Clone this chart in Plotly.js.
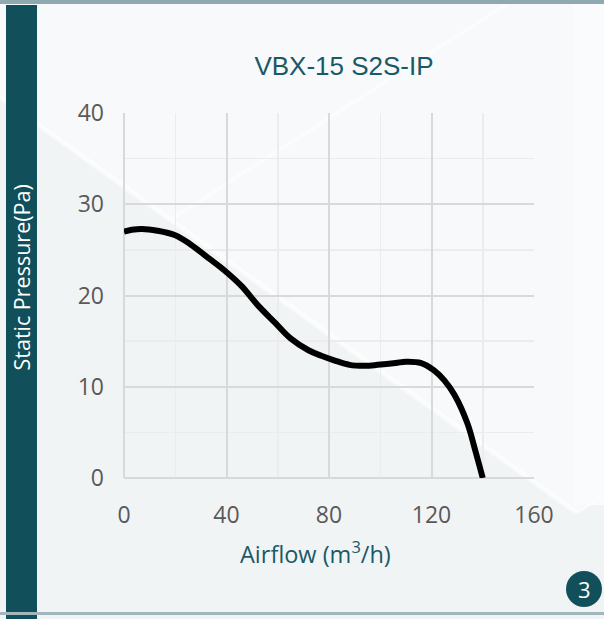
<!DOCTYPE html>
<html>
<head>
<meta charset="utf-8">
<script src="https://cdn.plot.ly/plotly-3.0.1.min.js"></script>
<style>
html,body{margin:0;padding:0;background:#f3f6f7;}
#chart{width:604px;height:619px;}
</style>
</head>
<body>
<div id="chart"></div>
<script>
// ---- data ----
const chartTitle = "VBX-15 S2S-IP";
const xTitle = "Airflow (m<sup>3</sup>/h)";
const yTitle = "Static Pressure(Pa)";
const pageNumber = "3";
const airflow = [0, 3, 7, 13, 20, 26, 33, 39, 46, 52, 59, 65, 72, 77, 82, 88, 94, 99, 106, 110, 116, 121, 125, 129, 134, 137, 140];
const pressure = [27.0, 27.2, 27.3, 27.1, 26.6, 25.6, 24.1, 22.8, 21.0, 19.0, 17.0, 15.3, 14.0, 13.4, 12.9, 12.4, 12.3, 12.4, 12.6, 12.75, 12.6, 11.8, 10.7, 9.1, 6.0, 3.1, 0.0];
const xTickVals = [0, 40, 80, 120, 160];
const yTickVals = [0, 10, 20, 30, 40];

// ---- layout helpers (pixel -> paper) ----
const L = 124, R = 534, T = 113, B = 478;
const px = v => (v - L) / (R - L);
const py = v => (B - v) / (B - T);

const teal = "#114f5b";
const shapes = [
  // lighter upper region above diagonal
  {type:"path", xref:"paper", yref:"paper", layer:"below",
   path:`M ${px(0)} ${py(97)} L ${px(577)} ${py(513)} L ${px(604)} ${py(495)} L ${px(604)} ${py(4)} L ${px(0)} ${py(4)} Z`,
   fillcolor:"#f7f9fa", line:{width:0}},
  // right vertical light panel
  {type:"rect", xref:"paper", yref:"paper", layer:"below",
   x0:px(573), x1:px(604), y0:py(4), y1:py(505), fillcolor:"#fafbfc", line:{width:0}},
  // diagonal white band 1
  {type:"line", xref:"paper", yref:"paper", layer:"below",
   x0:px(0), y0:py(97), x1:px(577), y1:py(513), line:{color:"rgba(255,255,255,0.6)", width:5}},
  // diagonal white band 2
  {type:"line", xref:"paper", yref:"paper", layer:"below",
   x0:px(507), y0:py(4), x1:px(170), y1:py(220), line:{color:"rgba(255,255,255,0.45)", width:4}},
  // bottom-right white edge
  {type:"line", xref:"paper", yref:"paper", layer:"below",
   x0:px(577), y0:py(513), x1:px(604), y1:py(495), line:{color:"rgba(255,255,255,0.5)", width:3}},
  // top border
  {type:"rect", xref:"paper", yref:"paper", layer:"above",
   x0:px(0), x1:px(604), y0:py(0), y1:py(4), fillcolor:"#8ea9b0", line:{width:0}},
  // bottom border
  {type:"rect", xref:"paper", yref:"paper", layer:"above",
   x0:px(0), x1:px(604), y0:py(612), y1:py(615), fillcolor:"#a2b7bc", line:{width:0}},
  // left dark bar
  {type:"rect", xref:"paper", yref:"paper", layer:"below",
   x0:px(6), x1:px(37), y0:py(5), y1:py(619), fillcolor:teal, line:{width:0}},
  // page number circle
  {type:"circle", xref:"paper", yref:"paper", layer:"above",
   x0:px(566), x1:px(602), y0:py(571), y1:py(607), fillcolor:teal, line:{width:0}}
];

const data = [{
  x: airflow, y: pressure, type:"scatter", mode:"lines",
  line:{color:"#000000", width:6, shape:"spline", smoothing:1},
  hoverinfo:"x+y", showlegend:false
}];

const tickFont = {family:"Open Sans, sans-serif", size:23, color:"#595959"};

const layout = {
  width:604, height:619,
  margin:{l:L, r:604-R, t:T, b:619-B, pad:0},
  paper_bgcolor:"#f1f4f5", plot_bgcolor:"rgba(0,0,0,0)",
  title:{text:chartTitle, x:(344/604), xanchor:"center", y:1-(66/619), yanchor:"middle",
         font:{family:"Liberation Sans, Arial, sans-serif", size:26, color:"#1a5966"}},
  xaxis:{range:[0,160], tickvals:xTickVals, ticks:"", ticklabelstandoff:21,
         showgrid:true, gridcolor:"#d9d9d9", gridwidth:2,
         minor:{dtick:20, showgrid:true, gridcolor:"#ececec", gridwidth:1.5},
         zeroline:true, zerolinecolor:"#d9d9d9", zerolinewidth:2, showline:false, fixedrange:true,
         tickfont:tickFont},
  yaxis:{range:[0,40], tickvals:yTickVals, ticks:"", ticklabelstandoff:19,
         showgrid:true, gridcolor:"#d9d9d9", gridwidth:2,
         minor:{dtick:5, showgrid:true, gridcolor:"#ececec", gridwidth:1.5},
         zeroline:true, zerolinecolor:"#d9d9d9", zerolinewidth:2, showline:false, fixedrange:true,
         tickfont:tickFont},
  shapes:shapes,
  annotations:[
    {text:xTitle, xref:"paper", yref:"paper", x:px(315), y:py(552), xanchor:"center", yanchor:"middle",
     showarrow:false, font:{family:"Open Sans, sans-serif", size:23.5, color:"#1a5966"}},
    {text:yTitle, xref:"paper", yref:"paper", x:px(21), y:py(277.5), xanchor:"center", yanchor:"middle",
     textangle:-90, showarrow:false, font:{family:"Open Sans, sans-serif", size:21.5, color:"#ffffff"}},
    {text:pageNumber, xref:"paper", yref:"paper", x:px(584), y:py(589), xanchor:"center", yanchor:"middle",
     showarrow:false, font:{family:"Open Sans, sans-serif", size:22, color:"#ffffff"}}
  ]
};

Plotly.newPlot("chart", data, layout, {displayModeBar:false, staticPlot:true});
</script>
</body>
</html>
